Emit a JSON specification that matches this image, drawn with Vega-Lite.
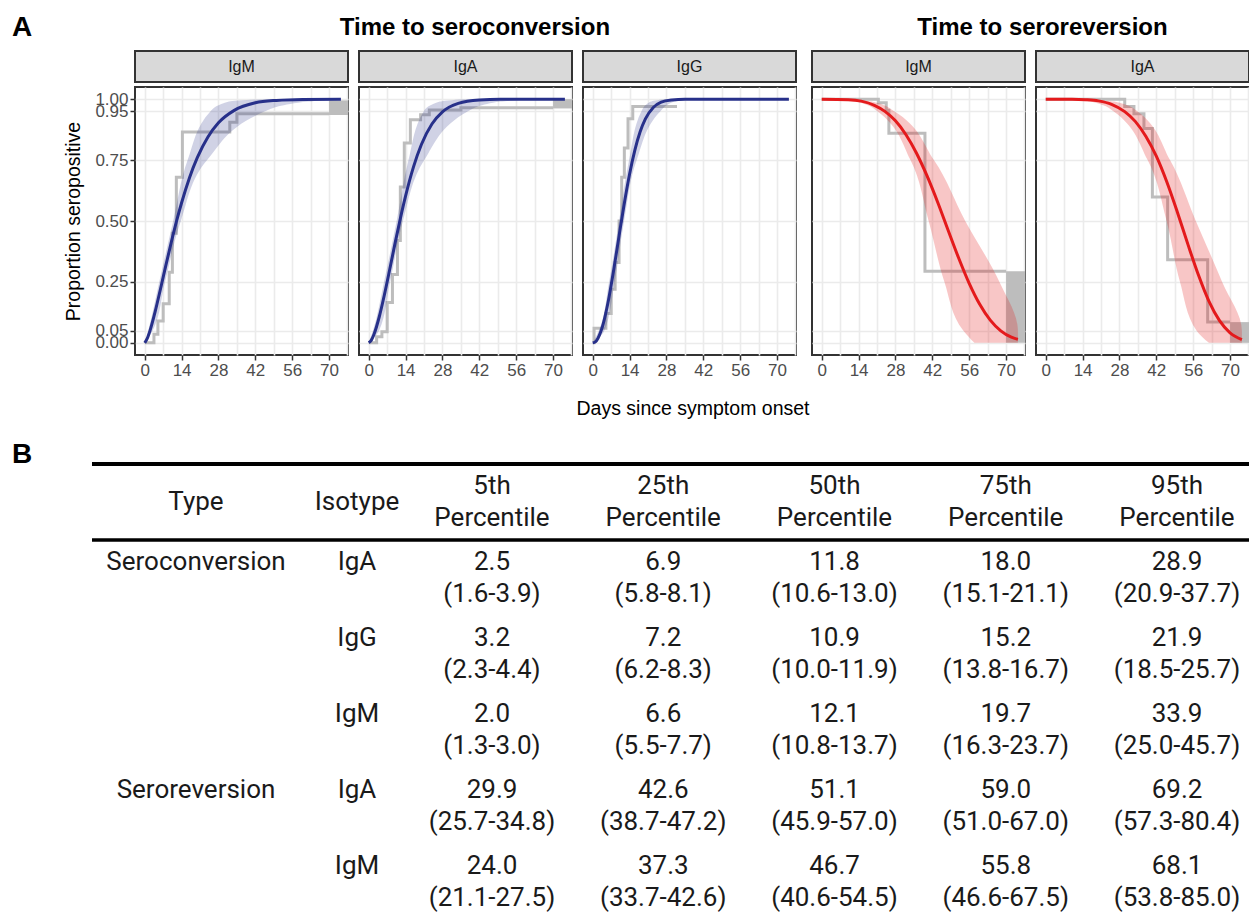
{
"$schema":"https://vega.github.io/schema/vega-lite/v6.json",
"background":"white",
"padding":{"left":12,"top":14,"right":0,"bottom":0},
"config":{
 "font":"Liberation Sans",
 "view":{"stroke":"#333333","strokeWidth":2},
 "axis":{"domain":false,"grid":true,"gridColor":"#ebebeb","gridWidth":1.6,"tickColor":"#333333","tickSize":5,"tickWidth":1.5,"labelColor":"#4d4d4d","labelFontSize":17,"labelPadding":2,"titleFontSize":19.5,"titleFontWeight":"normal","titleColor":"#000000","labelFont":"Liberation Sans","titleFont":"Liberation Sans"},
 "title":{"font":"Liberation Sans","color":"#000000"}
},
"datasets":{
 "cIgM":[
  {"k":"f","x":0,"p":0},{"k":"f","x":1,"p":0.019},{"k":"f","x":2,"p":0.05},{"k":"f","x":4,"p":0.13},{"k":"f","x":6,"p":0.222},{"k":"f","x":8,"p":0.317},{"k":"f","x":10,"p":0.409},{"k":"f","x":12,"p":0.496},{"k":"f","x":14,"p":0.575},{"k":"f","x":17,"p":0.678},{"k":"f","x":20,"p":0.761},{"k":"f","x":24,"p":0.845},{"k":"f","x":28,"p":0.903},{"k":"f","x":34,"p":0.954},{"k":"f","x":42,"p":0.985},{"k":"f","x":50,"p":0.995},{"k":"f","x":60,"p":0.999},{"k":"f","x":74.5,"p":1},
  {"k":"b","p":0,"x":0,"hi":0},{"k":"b","p":0.05,"x":1.3,"hi":3.0},{"k":"b","p":0.25,"x":5.5,"hi":7.7},{"k":"b","p":0.5,"x":10.8,"hi":13.7},{"k":"b","p":0.75,"x":16.3,"hi":23.7},{"k":"b","p":0.95,"x":25.0,"hi":45.7},{"k":"b","p":0.99,"x":32,"hi":62},{"k":"b","p":1,"x":45,"hi":74.5},
  {"k":"s","x":0,"p":0},{"k":"s","x":3.5,"p":0.035},{"k":"s","x":5,"p":0.09},{"k":"s","x":7,"p":0.16},{"k":"s","x":9.3,"p":0.29},{"k":"s","x":10.5,"p":0.45},{"k":"s","x":12,"p":0.68},{"k":"s","x":14.3,"p":0.865},{"k":"s","x":32.3,"p":0.905},{"k":"s","x":35,"p":0.94},{"k":"s","x":70,"p":0.94},
  {"k":"r","x":70,"xe":77.2,"p":0.935,"pe":0.995}
 ],
 "cIgA":[
  {"k":"f","x":0,"p":0},{"k":"f","x":1,"p":0.011},{"k":"f","x":2,"p":0.035},{"k":"f","x":4,"p":0.107},{"k":"f","x":6,"p":0.2},{"k":"f","x":8,"p":0.303},{"k":"f","x":10,"p":0.409},{"k":"f","x":12,"p":0.51},{"k":"f","x":14,"p":0.603},{"k":"f","x":17,"p":0.722},{"k":"f","x":20,"p":0.814},{"k":"f","x":24,"p":0.898},{"k":"f","x":28,"p":0.948},{"k":"f","x":34,"p":0.983},{"k":"f","x":42,"p":0.997},{"k":"f","x":50,"p":1},{"k":"f","x":74.5,"p":1},
  {"k":"b","p":0,"x":0,"hi":0},{"k":"b","p":0.05,"x":1.6,"hi":3.9},{"k":"b","p":0.25,"x":5.8,"hi":8.1},{"k":"b","p":0.5,"x":10.6,"hi":13.0},{"k":"b","p":0.75,"x":15.1,"hi":21.1},{"k":"b","p":0.95,"x":20.9,"hi":37.7},{"k":"b","p":0.99,"x":27,"hi":50},{"k":"b","p":1,"x":36,"hi":62},
  {"k":"s","x":0,"p":0},{"k":"s","x":3,"p":0.025},{"k":"s","x":5,"p":0.045},{"k":"s","x":7,"p":0.165},{"k":"s","x":9,"p":0.28},{"k":"s","x":10.9,"p":0.42},{"k":"s","x":12,"p":0.64},{"k":"s","x":13.5,"p":0.82},{"k":"s","x":15.8,"p":0.916},{"k":"s","x":19.7,"p":0.936},{"k":"s","x":23,"p":0.956},{"k":"s","x":35,"p":0.965},{"k":"s","x":70,"p":0.965},
  {"k":"r","x":70,"xe":77.2,"p":0.962,"pe":1.0}
 ],
 "cIgG":[
  {"k":"f","x":0,"p":0},{"k":"f","x":1,"p":0.004},{"k":"f","x":2,"p":0.019},{"k":"f","x":3,"p":0.044},{"k":"f","x":4,"p":0.079},{"k":"f","x":6,"p":0.177},{"k":"f","x":8,"p":0.302},{"k":"f","x":10,"p":0.439},{"k":"f","x":12,"p":0.573},{"k":"f","x":14,"p":0.693},{"k":"f","x":16,"p":0.791},{"k":"f","x":18,"p":0.866},{"k":"f","x":20,"p":0.919},{"k":"f","x":23,"p":0.966},{"k":"f","x":26,"p":0.988},{"k":"f","x":30,"p":0.997},{"k":"f","x":35,"p":1},{"k":"f","x":74.5,"p":1},
  {"k":"b","p":0,"x":0,"hi":0},{"k":"b","p":0.05,"x":2.3,"hi":4.4},{"k":"b","p":0.25,"x":6.2,"hi":8.3},{"k":"b","p":0.5,"x":10.0,"hi":11.9},{"k":"b","p":0.75,"x":13.8,"hi":16.7},{"k":"b","p":0.95,"x":18.5,"hi":25.7},{"k":"b","p":0.99,"x":22,"hi":31},{"k":"b","p":1,"x":27,"hi":38},
  {"k":"s","x":0,"p":0},{"k":"s","x":0.5,"p":0.06},{"k":"s","x":5,"p":0.12},{"k":"s","x":7,"p":0.22},{"k":"s","x":8.5,"p":0.33},{"k":"s","x":10,"p":0.5},{"k":"s","x":11,"p":0.68},{"k":"s","x":12,"p":0.8},{"k":"s","x":13.4,"p":0.92},{"k":"s","x":15.2,"p":0.97},{"k":"s","x":32,"p":0.97}
 ],
 "rIgM":[
  {"k":"f","x":0,"p":1},{"k":"f","x":10,"p":0.998},{"k":"f","x":15,"p":0.992},{"k":"f","x":20,"p":0.975},{"k":"f","x":24,"p":0.95},{"k":"f","x":28,"p":0.911},{"k":"f","x":32,"p":0.854},{"k":"f","x":36,"p":0.778},{"k":"f","x":40,"p":0.685},{"k":"f","x":44,"p":0.578},{"k":"f","x":48,"p":0.462},{"k":"f","x":52,"p":0.348},{"k":"f","x":56,"p":0.244},{"k":"f","x":60,"p":0.158},{"k":"f","x":64,"p":0.093},{"k":"f","x":68,"p":0.049},{"k":"f","x":72,"p":0.023},{"k":"f","x":74.5,"p":0.014},
  {"k":"b","p":0,"x":58,"hi":74.5},{"k":"b","p":0.05,"x":53.8,"hi":74.5},{"k":"b","p":0.25,"x":46.6,"hi":67.5},{"k":"b","p":0.5,"x":40.6,"hi":54.5},{"k":"b","p":0.75,"x":33.7,"hi":42.6},{"k":"b","p":0.95,"x":21.1,"hi":27.5},{"k":"b","p":0.99,"x":13,"hi":19},{"k":"b","p":1,"x":0,"hi":8},
  {"k":"s","x":0,"p":1},{"k":"s","x":21.5,"p":0.985},{"k":"s","x":24.5,"p":0.955},{"k":"s","x":25.5,"p":0.86},{"k":"s","x":39.2,"p":0.294},{"k":"s","x":70,"p":0.294},
  {"k":"r","x":70,"xe":77.2,"p":0,"pe":0.294}
 ],
 "rIgA":[
  {"k":"f","x":0,"p":1},{"k":"f","x":10,"p":1},{"k":"f","x":15,"p":0.998},{"k":"f","x":20,"p":0.993},{"k":"f","x":25,"p":0.979},{"k":"f","x":30,"p":0.949},{"k":"f","x":34,"p":0.909},{"k":"f","x":38,"p":0.848},{"k":"f","x":42,"p":0.766},{"k":"f","x":46,"p":0.66},{"k":"f","x":50,"p":0.536},{"k":"f","x":54,"p":0.404},{"k":"f","x":58,"p":0.278},{"k":"f","x":62,"p":0.17},{"k":"f","x":66,"p":0.091},{"k":"f","x":70,"p":0.041},{"k":"f","x":74.5,"p":0.013},
  {"k":"b","p":0,"x":62,"hi":74.5},{"k":"b","p":0.05,"x":57.3,"hi":74.5},{"k":"b","p":0.25,"x":51.0,"hi":67.0},{"k":"b","p":0.5,"x":45.9,"hi":57.0},{"k":"b","p":0.75,"x":38.7,"hi":47.2},{"k":"b","p":0.95,"x":25.7,"hi":34.8},{"k":"b","p":0.99,"x":17,"hi":26},{"k":"b","p":1,"x":0,"hi":10},
  {"k":"s","x":0,"p":1},{"k":"s","x":30,"p":0.97},{"k":"s","x":33.5,"p":0.94},{"k":"s","x":37.3,"p":0.88},{"k":"s","x":40.5,"p":0.598},{"k":"s","x":46.3,"p":0.341},{"k":"s","x":61.5,"p":0.085},{"k":"s","x":70,"p":0.085},
  {"k":"r","x":70,"xe":77.2,"p":0,"pe":0.085}
 ],
 "tab":[
  {"r":"H","c":"Type","g":"L","label":"Type"},{"r":"H","c":"Isotype","g":"L","label":"Isotype"},
  {"r":"H","c":"p5","g":"P","label":"5th\nPercentile"},{"r":"H","c":"p25","g":"P","label":"25th\nPercentile"},{"r":"H","c":"p50","g":"P","label":"50th\nPercentile"},{"r":"H","c":"p75","g":"P","label":"75th\nPercentile"},{"r":"H","c":"p95","g":"P","label":"95th\nPercentile"},
  {"r":"1","c":"Type","g":"L","label":"Seroconversion"},{"r":"1","c":"Isotype","g":"L","label":"IgA"},
  {"r":"1","c":"p5","g":"P","label":"2.5\n(1.6-3.9)"},{"r":"1","c":"p25","g":"P","label":"6.9\n(5.8-8.1)"},{"r":"1","c":"p50","g":"P","label":"11.8\n(10.6-13.0)"},{"r":"1","c":"p75","g":"P","label":"18.0\n(15.1-21.1)"},{"r":"1","c":"p95","g":"P","label":"28.9\n(20.9-37.7)"},
  {"r":"2","c":"Isotype","g":"L","label":"IgG"},
  {"r":"2","c":"p5","g":"P","label":"3.2\n(2.3-4.4)"},{"r":"2","c":"p25","g":"P","label":"7.2\n(6.2-8.3)"},{"r":"2","c":"p50","g":"P","label":"10.9\n(10.0-11.9)"},{"r":"2","c":"p75","g":"P","label":"15.2\n(13.8-16.7)"},{"r":"2","c":"p95","g":"P","label":"21.9\n(18.5-25.7)"},
  {"r":"3","c":"Isotype","g":"L","label":"IgM"},
  {"r":"3","c":"p5","g":"P","label":"2.0\n(1.3-3.0)"},{"r":"3","c":"p25","g":"P","label":"6.6\n(5.5-7.7)"},{"r":"3","c":"p50","g":"P","label":"12.1\n(10.8-13.7)"},{"r":"3","c":"p75","g":"P","label":"19.7\n(16.3-23.7)"},{"r":"3","c":"p95","g":"P","label":"33.9\n(25.0-45.7)"},
  {"r":"4","c":"Type","g":"L","label":"Seroreversion"},{"r":"4","c":"Isotype","g":"L","label":"IgA"},
  {"r":"4","c":"p5","g":"P","label":"29.9\n(25.7-34.8)"},{"r":"4","c":"p25","g":"P","label":"42.6\n(38.7-47.2)"},{"r":"4","c":"p50","g":"P","label":"51.1\n(45.9-57.0)"},{"r":"4","c":"p75","g":"P","label":"59.0\n(51.0-67.0)"},{"r":"4","c":"p95","g":"P","label":"69.2\n(57.3-80.4)"},
  {"r":"5","c":"Isotype","g":"L","label":"IgM"},
  {"r":"5","c":"p5","g":"P","label":"24.0\n(21.1-27.5)"},{"r":"5","c":"p25","g":"P","label":"37.3\n(33.7-42.6)"},{"r":"5","c":"p50","g":"P","label":"46.7\n(40.6-54.5)"},{"r":"5","c":"p75","g":"P","label":"55.8\n(46.6-67.5)"},{"r":"5","c":"p95","g":"P","label":"68.1\n(53.8-85.0)"}
 ]
},
"spacing":22,
"vconcat":[
 {
  "title":{"text":"Days since symptom onset","orient":"bottom","anchor":"middle","fontSize":19.5,"fontWeight":"normal","offset":21,"dx":62},
  "spacing":14,
  "hconcat":[
   {"width":36,"height":10,"view":{"stroke":null},
    "title":{"text":"A","anchor":"start","fontSize":28,"fontWeight":"bold","baseline":"alphabetic","offset":-13},
    "data":{"values":[{}]},"mark":{"type":"point","opacity":0}},
   {
    "title":{"text":"Time to seroconversion","fontSize":24,"fontWeight":"bold","anchor":"middle","offset":10,"dx":45},
    "spacing":9,
    "hconcat":[
     {"spacing":3,"vconcat":[
      {"width":213,"height":31,"view":{"fill":"#d9d9d9","stroke":"#333333","strokeWidth":2},"data":{"values":[{"iso":"IgM"}]},"mark":{"type":"text","fontSize":16,"color":"#1a1a1a"},"encoding":{"text":{"field":"iso"}}},
      {"width":213,"height":268,"data":{"name":"cIgM"},
       "encoding":{
        "x":{"field":"x","type":"quantitative","scale":{"domain":[-3.7,77.2],"nice":false,"zero":false},"axis":{"values":[0,7,14,21,28,35,42,49,56,63,70,77],"format":"d","labelExpr":"datum.value % 14 === 0 ? datum.label : ''","tickOpacity":{"condition":{"test":"datum.value % 14 === 0","value":1},"value":0},"labelOverlap":false,"title":null}},
        "y":{"field":"p","type":"quantitative","scale":{"domain":[-0.05,1.05],"nice":false,"zero":false},"axis":{"values":[0,0.05,0.25,0.5,0.75,0.95,1],"format":".2f","labelOverlap":false,"title":"Proportion seropositive","titlePadding":11}}
       },
       "layer":[
        {"transform":[{"filter":"datum.k == 'r'"}],"mark":{"type":"rect","color":"#bdbdbd","clip":true},"encoding":{"x2":{"field":"xe"},"y2":{"field":"pe"}}},
        {"transform":[{"filter":"datum.k == 's'"}],"mark":{"type":"line","interpolate":"step-after","color":"#bdbdbd","strokeWidth":3},"encoding":{}},
        {"transform":[{"filter":"datum.k == 'b'"}],"mark":{"type":"area","orient":"horizontal","interpolate":"monotone","color":"#27308a","opacity":0.22,"clip":true},"encoding":{"x2":{"field":"hi"}}},
        {"transform":[{"filter":"datum.k == 'f'"}],"mark":{"type":"line","interpolate":"monotone","color":"#27308a","strokeWidth":3},"encoding":{}}
       ]}
     ]},
     {"spacing":3,"vconcat":[
      {"width":213,"height":31,"view":{"fill":"#d9d9d9","stroke":"#333333","strokeWidth":2},"data":{"values":[{"iso":"IgA"}]},"mark":{"type":"text","fontSize":16,"color":"#1a1a1a"},"encoding":{"text":{"field":"iso"}}},
      {"width":213,"height":268,"data":{"name":"cIgA"},
       "encoding":{
        "x":{"field":"x","type":"quantitative","scale":{"domain":[-3.7,77.2],"nice":false,"zero":false},"axis":{"values":[0,7,14,21,28,35,42,49,56,63,70,77],"format":"d","labelExpr":"datum.value % 14 === 0 ? datum.label : ''","tickOpacity":{"condition":{"test":"datum.value % 14 === 0","value":1},"value":0},"labelOverlap":false,"title":null}},
        "y":{"field":"p","type":"quantitative","scale":{"domain":[-0.05,1.05],"nice":false,"zero":false},"axis":{"values":[0,0.05,0.25,0.5,0.75,0.95,1],"labels":false,"ticks":false,"title":null}}
       },
       "layer":[
        {"transform":[{"filter":"datum.k == 'r'"}],"mark":{"type":"rect","color":"#bdbdbd","clip":true},"encoding":{"x2":{"field":"xe"},"y2":{"field":"pe"}}},
        {"transform":[{"filter":"datum.k == 's'"}],"mark":{"type":"line","interpolate":"step-after","color":"#bdbdbd","strokeWidth":3},"encoding":{}},
        {"transform":[{"filter":"datum.k == 'b'"}],"mark":{"type":"area","orient":"horizontal","interpolate":"monotone","color":"#27308a","opacity":0.22,"clip":true},"encoding":{"x2":{"field":"hi"}}},
        {"transform":[{"filter":"datum.k == 'f'"}],"mark":{"type":"line","interpolate":"monotone","color":"#27308a","strokeWidth":3},"encoding":{}}
       ]}
     ]},
     {"spacing":3,"vconcat":[
      {"width":213,"height":31,"view":{"fill":"#d9d9d9","stroke":"#333333","strokeWidth":2},"data":{"values":[{"iso":"IgG"}]},"mark":{"type":"text","fontSize":16,"color":"#1a1a1a"},"encoding":{"text":{"field":"iso"}}},
      {"width":213,"height":268,"data":{"name":"cIgG"},
       "encoding":{
        "x":{"field":"x","type":"quantitative","scale":{"domain":[-3.7,77.2],"nice":false,"zero":false},"axis":{"values":[0,7,14,21,28,35,42,49,56,63,70,77],"format":"d","labelExpr":"datum.value % 14 === 0 ? datum.label : ''","tickOpacity":{"condition":{"test":"datum.value % 14 === 0","value":1},"value":0},"labelOverlap":false,"title":null}},
        "y":{"field":"p","type":"quantitative","scale":{"domain":[-0.05,1.05],"nice":false,"zero":false},"axis":{"values":[0,0.05,0.25,0.5,0.75,0.95,1],"labels":false,"ticks":false,"title":null}}
       },
       "layer":[
        {"transform":[{"filter":"datum.k == 's'"}],"mark":{"type":"line","interpolate":"step-after","color":"#bdbdbd","strokeWidth":3},"encoding":{}},
        {"transform":[{"filter":"datum.k == 'b'"}],"mark":{"type":"area","orient":"horizontal","interpolate":"monotone","color":"#27308a","opacity":0.22,"clip":true},"encoding":{"x2":{"field":"hi"}}},
        {"transform":[{"filter":"datum.k == 'f'"}],"mark":{"type":"line","interpolate":"monotone","color":"#27308a","strokeWidth":3},"encoding":{}}
       ]}
     ]}
    ]
   },
   {
    "title":{"text":"Time to seroreversion","fontSize":24,"fontWeight":"bold","anchor":"middle","offset":10,"dx":12},
    "spacing":9,
    "hconcat":[
     {"spacing":3,"vconcat":[
      {"width":213,"height":31,"view":{"fill":"#d9d9d9","stroke":"#333333","strokeWidth":2},"data":{"values":[{"iso":"IgM"}]},"mark":{"type":"text","fontSize":16,"color":"#1a1a1a"},"encoding":{"text":{"field":"iso"}}},
      {"width":213,"height":268,"data":{"name":"rIgM"},
       "encoding":{
        "x":{"field":"x","type":"quantitative","scale":{"domain":[-3.7,77.2],"nice":false,"zero":false},"axis":{"values":[0,7,14,21,28,35,42,49,56,63,70,77],"format":"d","labelExpr":"datum.value % 14 === 0 ? datum.label : ''","tickOpacity":{"condition":{"test":"datum.value % 14 === 0","value":1},"value":0},"labelOverlap":false,"title":null}},
        "y":{"field":"p","type":"quantitative","scale":{"domain":[-0.05,1.05],"nice":false,"zero":false},"axis":{"values":[0,0.05,0.25,0.5,0.75,0.95,1],"labels":false,"ticks":false,"title":null}}
       },
       "layer":[
        {"transform":[{"filter":"datum.k == 'r'"}],"mark":{"type":"rect","color":"#bdbdbd","clip":true},"encoding":{"x2":{"field":"xe"},"y2":{"field":"pe"}}},
        {"transform":[{"filter":"datum.k == 's'"}],"mark":{"type":"line","interpolate":"step-after","color":"#bdbdbd","strokeWidth":3},"encoding":{}},
        {"transform":[{"filter":"datum.k == 'b'"}],"mark":{"type":"area","orient":"horizontal","interpolate":"monotone","color":"#e41a1c","opacity":0.25,"clip":true},"encoding":{"x2":{"field":"hi"}}},
        {"transform":[{"filter":"datum.k == 'f'"}],"mark":{"type":"line","interpolate":"monotone","color":"#e41a1c","strokeWidth":3},"encoding":{}}
       ]}
     ]},
     {"spacing":3,"vconcat":[
      {"width":213,"height":31,"view":{"fill":"#d9d9d9","stroke":"#333333","strokeWidth":2},"data":{"values":[{"iso":"IgA"}]},"mark":{"type":"text","fontSize":16,"color":"#1a1a1a"},"encoding":{"text":{"field":"iso"}}},
      {"width":213,"height":268,"data":{"name":"rIgA"},
       "encoding":{
        "x":{"field":"x","type":"quantitative","scale":{"domain":[-3.7,77.2],"nice":false,"zero":false},"axis":{"values":[0,7,14,21,28,35,42,49,56,63,70,77],"format":"d","labelExpr":"datum.value % 14 === 0 ? datum.label : ''","tickOpacity":{"condition":{"test":"datum.value % 14 === 0","value":1},"value":0},"labelOverlap":false,"title":null}},
        "y":{"field":"p","type":"quantitative","scale":{"domain":[-0.05,1.05],"nice":false,"zero":false},"axis":{"values":[0,0.05,0.25,0.5,0.75,0.95,1],"labels":false,"ticks":false,"title":null}}
       },
       "layer":[
        {"transform":[{"filter":"datum.k == 'r'"}],"mark":{"type":"rect","color":"#bdbdbd","clip":true},"encoding":{"x2":{"field":"xe"},"y2":{"field":"pe"}}},
        {"transform":[{"filter":"datum.k == 's'"}],"mark":{"type":"line","interpolate":"step-after","color":"#bdbdbd","strokeWidth":3},"encoding":{}},
        {"transform":[{"filter":"datum.k == 'b'"}],"mark":{"type":"area","orient":"horizontal","interpolate":"monotone","color":"#e41a1c","opacity":0.25,"clip":true},"encoding":{"x2":{"field":"hi"}}},
        {"transform":[{"filter":"datum.k == 'f'"}],"mark":{"type":"line","interpolate":"monotone","color":"#e41a1c","strokeWidth":3},"encoding":{}}
       ]}
     ]}
    ]
   }
  ]
 },
 {
  "spacing":0,
  "hconcat":[
   {"width":78,"height":456,"view":{"stroke":null},
    "title":{"text":"B","anchor":"start","fontSize":28,"fontWeight":"bold","baseline":"alphabetic","offset":-27},
    "data":{"values":[{}]},"mark":{"type":"point","opacity":0}},
   {
    "width":1159,"height":456,
    "view":{"stroke":null},
    "data":{"name":"tab"},
    "layer":[
     {"transform":[{"filter":"datum.r == 'H' && datum.c == 'Type'"}],"mark":{"type":"rule","color":"#000000","strokeWidth":4},
      "encoding":{"y":{"field":"r","type":"nominal","bandPosition":0,"scale":{"type":"band","domain":["H","1","2","3","4","5"],"paddingInner":0,"paddingOuter":0},"axis":null}}},
     {"transform":[{"filter":"datum.r == 'H' && datum.c == 'Type'"}],"mark":{"type":"rule","color":"#000000","strokeWidth":3.5},
      "encoding":{"y":{"field":"r","type":"nominal","bandPosition":1,"scale":{"type":"band","domain":["H","1","2","3","4","5"],"paddingInner":0,"paddingOuter":0},"axis":null}}},
     {"transform":[{"filter":"datum.g == 'L' && datum.r == 'H'"}],"mark":{"type":"text","font":"Roboto","fontSize":26,"color":"#1a1a1a","baseline":"middle"},
      "encoding":{"x":{"field":"c","type":"nominal","scale":{"type":"point","domain":["Type","Isotype"],"range":[104,265],"padding":0},"axis":null},
       "y":{"field":"r","type":"nominal","scale":{"type":"band","domain":["H","1","2","3","4","5"],"paddingInner":0,"paddingOuter":0},"axis":null},
       "text":{"field":"label"}}},
     {"transform":[{"filter":"datum.g == 'L' && datum.r != 'H'"}],"mark":{"type":"text","font":"Roboto","fontSize":26,"color":"#1a1a1a","baseline":"middle","dy":-16},
      "encoding":{"x":{"field":"c","type":"nominal","scale":{"type":"point","domain":["Type","Isotype"],"range":[104,265],"padding":0},"axis":null},
       "y":{"field":"r","type":"nominal","scale":{"type":"band","domain":["H","1","2","3","4","5"],"paddingInner":0,"paddingOuter":0},"axis":null},
       "text":{"field":"label"}}},
     {"transform":[{"filter":"datum.g == 'P'"}],"mark":{"type":"text","font":"Roboto","fontSize":26,"color":"#1a1a1a","baseline":"middle","lineBreak":"\n","lineHeight":32,"dy":-16},
      "encoding":{"x":{"field":"c","type":"nominal","scale":{"type":"point","domain":["p5","p25","p50","p75","p95"],"range":[400,1085],"padding":0},"axis":null},
       "y":{"field":"r","type":"nominal","scale":{"type":"band","domain":["H","1","2","3","4","5"],"paddingInner":0,"paddingOuter":0},"axis":null},
       "text":{"field":"label"}}}
    ],
    "resolve":{"scale":{"x":"independent"}}
   }
  ]
 }
]
}
